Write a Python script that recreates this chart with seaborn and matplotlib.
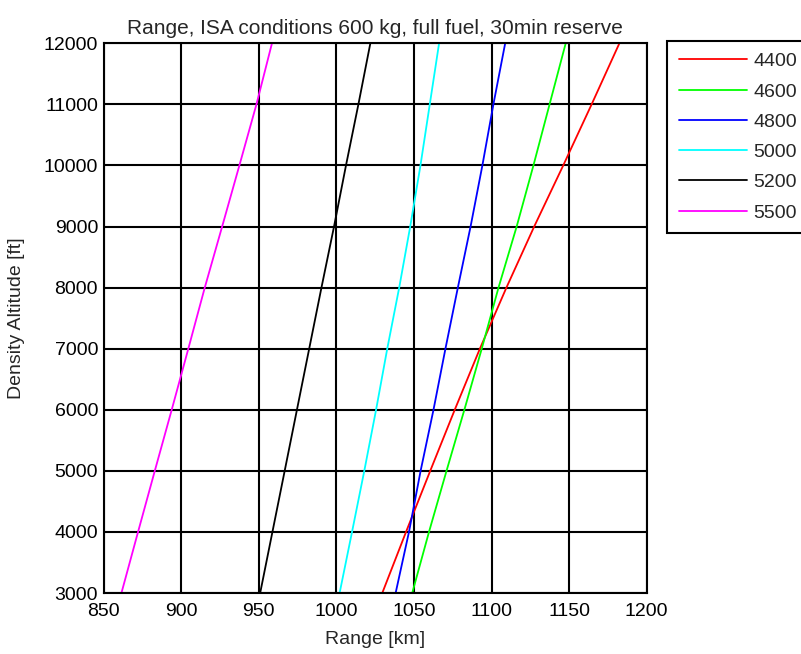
import matplotlib
matplotlib.use("Agg")
import matplotlib.pyplot as plt
import seaborn as sns
import pandas as pd

# Values: range [km] at each density altitude [ft]
altitudes = [3000, 4000, 5000, 6000, 7000, 8000, 9000, 10000, 11000, 12000]
series_labels = ["4400", "4600", "4800", "5000", "5200", "5500"]
range_4400 = [1029.6, 1044.9, 1060.5, 1076.3, 1092.5, 1109.6, 1127.5, 1146.2, 1164.5, 1182.4]
range_4600 = [1048.9, 1059.7, 1071.0, 1082.5, 1093.7, 1104.5, 1116.2, 1127.0, 1137.4, 1147.8]
range_4800 = [1038.2, 1046.8, 1054.3, 1062.6, 1070.3, 1078.3, 1086.5, 1094.1, 1101.2, 1108.8]
range_5000 = [1002.1, 1010.1, 1018.0, 1025.6, 1032.8, 1040.5, 1047.6, 1054.2, 1060.2, 1066.2]
range_5200 = [950.9, 958.8, 966.7, 974.6, 982.5, 990.4, 998.5, 1006.2, 1014.2, 1021.9]
range_5500 = [861.5, 872.2, 883.0, 893.9, 904.6, 915.2, 926.4, 937.5, 948.5, 958.5]
colors = ["#ff0000", "#00ff00", "#0000ff", "#00ffff", "#000000", "#ff00ff"]

x_ticks = [850, 900, 950, 1000, 1050, 1100, 1150, 1200]
y_ticks = [3000, 4000, 5000, 6000, 7000, 8000, 9000, 10000, 11000, 12000]

all_ranges = [range_4400, range_4600, range_4800, range_5000, range_5200, range_5500]
rows = []
for lab, rng in zip(series_labels, all_ranges):
    for a, r in zip(altitudes, rng):
        rows.append({"Range": r, "Altitude": a, "Series": lab})
df = pd.DataFrame(rows)

sns.set_style("white")
plt.rcParams["font.family"] = ["Liberation Sans", "DejaVu Sans"]

FS = 14
fig = plt.figure(figsize=(8.01, 6.54), dpi=100)
ax = fig.add_axes([103.6 / 801, 1 - 593 / 654, (646.7 - 103.6) / 801, (593 - 43.3) / 654])

sns.lineplot(data=df, x="Range", y="Altitude", hue="Series",
             palette=dict(zip(series_labels, colors)), hue_order=series_labels,
             sort=False, estimator=None, linewidth=1.3, ax=ax, legend=False)

ax.set_xlim(850, 1200)
ax.set_ylim(3000, 12000)
ax.set_xticks(x_ticks)
ax.set_yticks(y_ticks)
ax.set_xticklabels([str(t) for t in x_ticks], fontsize=FS)
ax.set_yticklabels([str(t) for t in y_ticks], fontsize=FS)
ax.grid(True, color="black", linewidth=1.5, linestyle="-")
ax.set_axisbelow(True)
for s in ax.spines.values():
    s.set_color("black")
    s.set_linewidth(1.5)
    s.set_visible(True)
ax.tick_params(direction="in", length=4, width=1, colors="black")
ax.tick_params(axis="x", pad=7)
ax.tick_params(axis="y", pad=4)

ax.set_xlabel("Range [km]", fontsize=FS, labelpad=8)
ax.set_ylabel("Density Altitude [ft]", fontsize=FS)
ax.yaxis.set_label_coords(-0.145, 0.5)
ax.set_title("Range, ISA conditions 600 kg, full fuel, 30min reserve", fontsize=15, pad=7)

handles = [plt.Line2D([], [], color=c, linewidth=1.3) for c in colors]
leg = fig.legend(handles, series_labels, loc="upper left",
                 bbox_to_anchor=(667 / 801, 1 - 41 / 654),
                 fontsize=FS, frameon=True, fancybox=False, framealpha=1,
                 edgecolor="black", handlelength=3.5, handletextpad=0.36,
                 labelspacing=0.65, borderpad=0.6, borderaxespad=0)
leg.get_frame().set_linewidth(1.5)

fig.savefig("out.png", dpi=100)
